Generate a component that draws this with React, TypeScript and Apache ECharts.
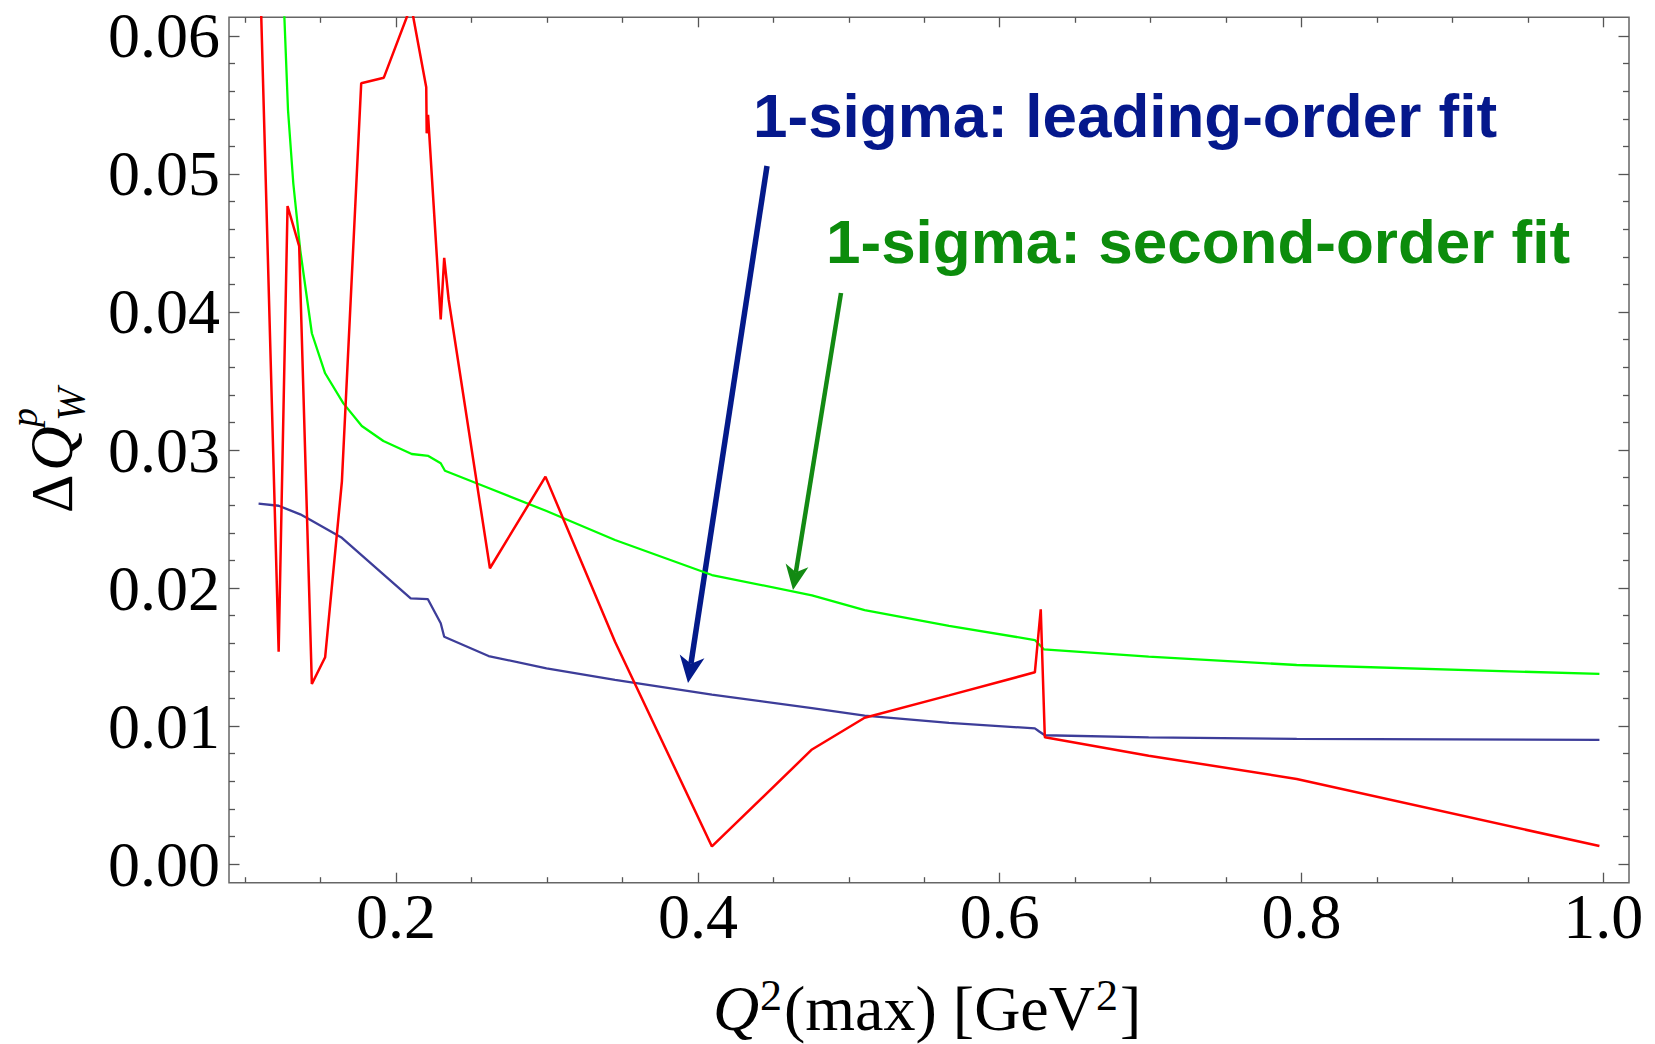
import React, { useEffect, useRef } from "react";
import * as echarts from "echarts";

// ---- axis ranges & ticks ----
const X_MIN = 0.0893;
const X_MAX = 1.017;
const Y_MIN = -0.001355;
const Y_MAX = 0.061355;
const xMajor = [0.2, 0.4, 0.6, 0.8, 1.0];
const xMinor = [0.1, 0.15, 0.25, 0.3, 0.35, 0.45, 0.5, 0.55, 0.65, 0.7, 0.75, 0.85, 0.9, 0.95];
const xTickLabels = ["0.2", "0.4", "0.6", "0.8", "1.0"];
const yMajor = [0, 0.01, 0.02, 0.03, 0.04, 0.05, 0.06];
const yMinor = [0.002, 0.004, 0.006, 0.008, 0.012, 0.014, 0.016, 0.018, 0.022, 0.024, 0.026, 0.028,
  0.032, 0.034, 0.036, 0.038, 0.042, 0.044, 0.046, 0.048, 0.052, 0.054, 0.056, 0.058];
const yTickLabels = ["0.00", "0.01", "0.02", "0.03", "0.04", "0.05", "0.06"];

// ---- series data ----
const blueX = [0.1089, 0.1222, 0.1365, 0.1413, 0.1641, 0.2097, 0.2210, 0.2296, 0.2319, 0.2613, 0.2997,
  0.3451, 0.4093, 0.4756, 0.5105, 0.5664, 0.6233, 0.6262, 0.6299, 0.6987, 0.7968, 0.9974];
const blueY = [0.02611, 0.02596, 0.02534, 0.02505, 0.02364, 0.01925, 0.01920, 0.01744, 0.01647, 0.01507, 0.01418,
  0.01335, 0.01228, 0.01129, 0.01075, 0.01022, 0.00983, 0.00960, 0.00933, 0.00918, 0.00906, 0.00899];

const greenX = [0.1222, 0.1284, 0.1319, 0.1365, 0.1442, 0.1530, 0.1651, 0.1773, 0.1916, 0.2104, 0.2214, 0.2296,
  0.2324, 0.2613, 0.2997, 0.3451, 0.4093, 0.4756, 0.5105, 0.5664, 0.6233, 0.6292, 0.6987, 0.7968, 0.9974];
const greenY = [0.0720, 0.05464, 0.04933, 0.04449, 0.03846, 0.03556, 0.03338, 0.03174, 0.03065, 0.02971, 0.02957, 0.02904,
  0.02850, 0.02725, 0.02558, 0.02348, 0.02094, 0.01947, 0.01840, 0.01725, 0.01623, 0.01556, 0.01502, 0.01442, 0.01377];

const redX = [0.1089, 0.1222, 0.1281, 0.1358, 0.1442, 0.1530, 0.1641, 0.1769, 0.1919, 0.2100, 0.2200, 0.2203,
  0.2212, 0.2296, 0.2319, 0.2349, 0.2622, 0.2990, 0.3451, 0.4093, 0.4756, 0.5105, 0.5664, 0.6233, 0.6272,
  0.6299, 0.6987, 0.7968, 0.9974];
const redY = [0.0685, 0.01538, 0.04768, 0.04478, 0.01304, 0.01498, 0.02770, 0.05657, 0.05698, 0.0622, 0.05628, 0.05295,
  0.05428, 0.03947, 0.04393, 0.04087, 0.02143, 0.02807, 0.01611, 0.00127, 0.00830, 0.01060, 0.01222, 0.01389, 0.01846,
  0.00918, 0.00785, 0.00616, 0.00130];

const blueLabel = "1-sigma: leading-order fit";
const greenLabel = "1-sigma: second-order fit";

const SERIF = "'Liberation Serif', 'Times New Roman', serif";
const SANS = "'Liberation Sans', Arial, sans-serif";
const TICK_COLOR = "#555";

function pairs(xs: number[], ys: number[]) {
  return xs.map((x, i) => [x, ys[i]]);
}

function xAxis(position: string, values: number[], len: number, labels: boolean) {
  return {
    type: "value",
    position,
    min: X_MIN,
    max: X_MAX,
    axisLine: { show: false, onZero: false },
    splitLine: { show: false },
    axisTick: { show: true, inside: true, length: len, customValues: values, lineStyle: { color: TICK_COLOR, width: 1.3 } },
    axisLabel: labels
      ? {
          show: true,
          customValues: values,
          margin: 2,
          fontSize: 64,
          fontFamily: SERIF,
          color: "#000",
          formatter: (v: number) => xTickLabels[xMajor.findIndex((m) => Math.abs(m - v) < 1e-6)] ?? "",
        }
      : { show: false },
  };
}

function yAxis(position: string, values: number[], len: number, labels: boolean) {
  return {
    type: "value",
    position,
    min: Y_MIN,
    max: Y_MAX,
    axisLine: { show: false, onZero: false },
    splitLine: { show: false },
    axisTick: { show: true, inside: true, length: len, customValues: values, lineStyle: { color: TICK_COLOR, width: 1.3 } },
    axisLabel: labels
      ? {
          show: true,
          customValues: values,
          margin: 9,
          fontSize: 64,
          fontFamily: SERIF,
          color: "#000",
          formatter: (v: number) => yTickLabels[yMajor.findIndex((m) => Math.abs(m - v) < 1e-6)] ?? "",
        }
      : { show: false },
  };
}

// text positioned by its alphabetic baseline (central baseline offset)
function txt(x: number, baseline: number, text: string, fontSize: number, extra: any = {}, family = SERIF, k = 0.3375) {
  return {
    type: "text",
    x,
    y: baseline - k * fontSize,
    silent: true,
    style: {
      text,
      fontSize,
      fontFamily: family,
      fill: "#000",
      align: "left",
      verticalAlign: "middle",
      textAlign: "left",
      textVerticalAlign: "middle",
      ...extra,
    },
  };
}

function arrow(x1: number, y1: number, x2: number, y2: number, color: string, w: number, L: number, H: number) {
  const dx = x2 - x1;
  const dy = y2 - y1;
  const len = Math.hypot(dx, dy);
  const ux = dx / len;
  const uy = dy / len;
  const px = -uy;
  const py = ux;
  const bx = x2 - ux * L;
  const by = y2 - uy * L;
  const nx = x2 - ux * L * 0.72;
  const ny = y2 - uy * L * 0.72;
  return [
    {
      type: "line",
      silent: true,
      shape: { x1, y1, x2: nx, y2: ny },
      style: { stroke: color, lineWidth: w },
    },
    {
      type: "polygon",
      silent: true,
      shape: { points: [[x2, y2], [bx + px * H, by + py * H], [nx, ny], [bx - px * H, by - py * H]] },
      style: { fill: color },
    },
  ];
}

export default function App() {
  const ref = useRef<HTMLDivElement>(null);

  useEffect(() => {
    if (!ref.current) return;
    const chart = echarts.init(ref.current, undefined, { renderer: "svg" });

    const BLUE_TXT = "#05188c";
    const GREEN_TXT = "#0c8c0c";

    const option: any = {
      animation: false,
      backgroundColor: "#fff",
      grid: {
        left: 229,
        right: 26,
        top: 17.3,
        bottom: 161.3,
        show: true,
        borderColor: "#666",
        borderWidth: 1.5,
        backgroundColor: "transparent",
      },
      xAxis: [
        xAxis("bottom", xMajor, 10, true),
        xAxis("bottom", xMinor, 5.5, false),
        xAxis("top", xMajor, 10, false),
        xAxis("top", xMinor, 5.5, false),
      ],
      yAxis: [
        yAxis("left", yMajor, 10.5, true),
        yAxis("left", yMinor, 6, false),
        yAxis("right", yMajor, 10.5, false),
        yAxis("right", yMinor, 6, false),
      ],
      series: [
        {
          type: "line",
          name: "leading-order",
          data: pairs(blueX, blueY),
          showSymbol: false,
          symbol: "none",
          clip: true,
          lineStyle: { color: "#3d3d99", width: 2.3 },
        },
        {
          type: "line",
          name: "second-order",
          data: pairs(greenX, greenY),
          showSymbol: false,
          symbol: "none",
          clip: true,
          lineStyle: { color: "#00ff00", width: 2.3 },
        },
        {
          type: "line",
          name: "difference",
          data: pairs(redX, redY),
          showSymbol: false,
          symbol: "none",
          clip: true,
          lineStyle: { color: "#ff0000", width: 2.5 },
        },
      ],
      graphic: [
        // y axis title
        {
          type: "group",
          x: 72,
          y: 513,
          rotation: Math.PI / 2,
          children: [
            txt(0, 0, "Δ", 60),
            txt(42, 0, "Q", 62, { fontStyle: "italic" }),
            txt(86, -35, "p", 38, { fontStyle: "italic" }),
            txt(92, 12, "W", 40, { fontStyle: "italic" }),
          ],
        },
        // x axis title
        txt(713, 1030, "Q", 64, { fontStyle: "italic" }),
        txt(760, 1010, "2", 44),
        txt(784, 1030, "(max) [GeV", 64),
        txt(1096, 1010, "2", 44),
        txt(1120, 1030, "]", 64),
        // annotations
        txt(753, 137.3, blueLabel, 62, { fill: BLUE_TXT, fontWeight: "bold" }, SANS, 0.3465),
        txt(826, 263, greenLabel, 62, { fill: GREEN_TXT, fontWeight: "bold" }, SANS, 0.3465),
        ...arrow(767, 166, 688, 683, "#041a8a", 5.5, 27, 12.5),
        ...arrow(841, 293, 793, 590, "#138a13", 4.5, 25, 11.5),
      ],
    };

    chart.setOption(option);
    return () => chart.dispose();
  }, []);

  return (
    <div
      ref={ref}
      style={{ position: "fixed", left: 0, top: 0, width: 1655, height: 1044, background: "#fff" }}
    />
  );
}
